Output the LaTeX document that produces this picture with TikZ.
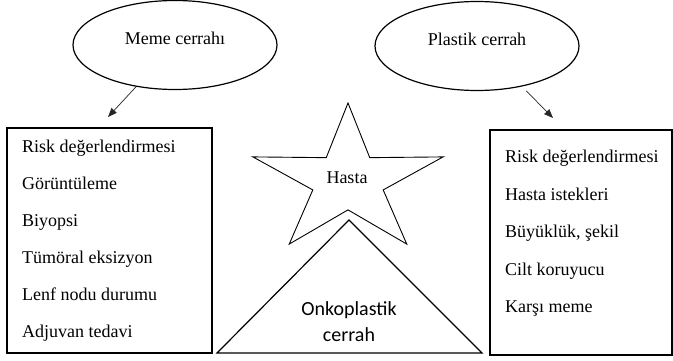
\documentclass[tikz,border=0pt]{standalone}
\usepackage{fontspec}
\setmainfont{Liberation Serif}
\newfontfamily\carlito{Carlito}
\usetikzlibrary{shapes.geometric,arrows.meta}

\begin{document}
\begin{tikzpicture}[
    x=1pt, y=1pt,
    oval/.style={ellipse, draw, line width=1.2pt, minimum width=204pt, minimum height=89pt, inner sep=0pt, text height=12pt, text depth=14pt, font=\fontsize{18}{22}\selectfont},
    listbox/.style={rectangle, draw, line width=1.4pt, inner sep=0pt},
    item/.style={anchor=base west, inner sep=0pt, font=\fontsize{18}{22}\selectfont},
    link/.style={-{Triangle[length=9pt,width=7pt]}, line width=0.7pt, black!85}
]
\useasboundingbox (0,0) rectangle (673,360);

% Surgeons
\node[oval] (meme) at (175,315) {Meme cerrahı};
\node[oval] (plastik) at (477,314) {Plastik cerrah};

% Left list
\node[listbox, minimum width=205pt, minimum height=225pt] (leftbox) at (109.5,119.5) {};
\node[item] (l1) at (22,207.5) {Risk değerlendirmesi};
\node[item] (l2) at (22,170.5) {Görüntüleme};
\node[item] (l3) at (22,133.5) {Biyopsi};
\node[item] (l4) at (22,96.5) {Tümöral eksizyon};
\node[item] (l5) at (22,59.5) {Lenf nodu durumu};
\node[item] (l6) at (22,22.5) {Adjuvan tedavi};

% Right list
\node[listbox, minimum width=182pt, minimum height=225pt] (rightbox) at (581,117.5) {};
\node[item] (r1) at (505,197.5) {Risk değerlendirmesi};
\node[item] (r2) at (505,160) {Hasta istekleri};
\node[item] (r3) at (505,122.5) {Büyüklük, şekil};
\node[item] (r4) at (505,85) {Cilt koruyucu};
\node[item] (r5) at (505,47.5) {Karşı meme};

% Star
\draw[line width=0.9pt, shift={(348,179)}, yscale=0.78]
    (90:100) -- (126:37) -- (162:100) -- (198:37) -- (234:100) -- (270:37)
    -- (306:100) -- (342:37) -- (18:100) -- (54:37) -- cycle;
\node[font=\fontsize{18}{22}\selectfont] (hasta) at (347,182) {Hasta};

% Triangle
\draw[line width=1.2pt] (217,7) -- (349,140) -- (482,7) -- cycle;
\node[align=center, font=\carlito\fontsize{20}{26}\selectfont] (onko) at (349,38) {Onkoplastik\\cerrah};

% Arrows
\coordinate (memeok) at (108,243);
\coordinate (plastikok) at (553,242);
\draw[link] (meme.227) -- (memeok);
\draw[link, shorten <=6pt] (plastik.318) -- (plastikok);

\end{tikzpicture}
\end{document}
